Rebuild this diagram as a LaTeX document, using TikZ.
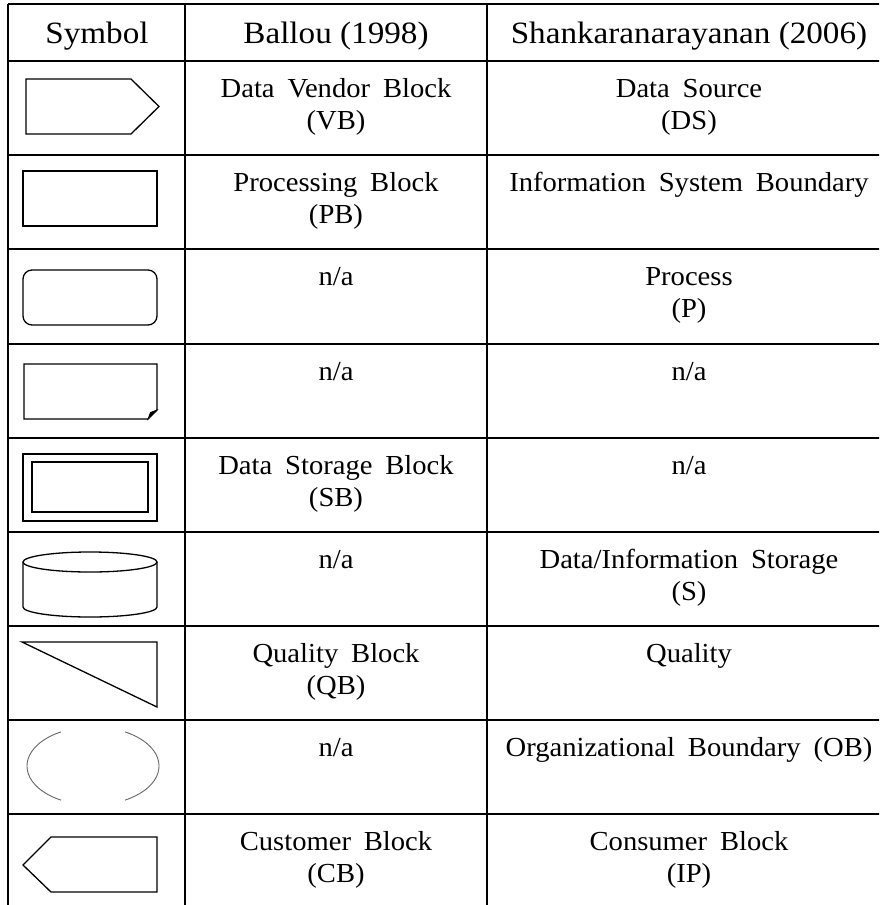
\documentclass[tikz,border=0pt]{standalone}
\usepackage{fontspec}
\setmainfont{Liberation Serif}
\newfontfamily\headfont{Liberation Serif}[FakeStretch=1.07]
\newfontfamily\bodyfont{Liberation Serif}[WordSpace=1.8,FakeStretch=1.04]

\tikzset{
    head/.style={anchor=base, inner sep=0pt, font=\headfont\fontsize{31}{34}\selectfont},
    entry/.style={anchor=base, inner sep=0pt, align=center, font=\bodyfont\fontsize{27.5}{32}\selectfont},
    grid line/.style={line width=1.6pt, draw=black},
    symbol/.style={line width=1.3pt, draw=black, line join=miter}
}

\begin{document}
\begin{tikzpicture}[x=1pt, y=-1pt]
\useasboundingbox (0,0) rectangle (879,905);
\clip (0,0) rectangle (879,905);
\begin{scope}[grid line]
    \foreach \yy in {4,61,155,249,344,438,532,626,720,814}
        \draw (8,\yy) -- (895,\yy);
    \foreach \xx in {8,185,487}
        \draw (\xx,4) -- (\xx,910);
\end{scope}
%% header
\node[head] (hsym) at (97,43) {Symbol};
\node[head] (hbal) at (336,43) {Ballou (1998)};
\node[head] (hsha) at (689,43) {Shankaranarayanan (2006)};
%% symbols
\begin{scope}[symbol]
    \draw (26,79) -- (131,79) -- (159,106.5) -- (131,134) -- (26,134) -- cycle;
    \draw (23,171) rectangle (157,226);
    \draw[rounded corners=9pt] (23,270) rectangle (157,325);
    \draw (24,364) -- (157,364) -- (157,410) -- (148,419) -- (24,419) -- cycle;
    \draw[fill=black, line width=0.8pt] (148,419) -- (150.5,412.5) -- (157,410) -- cycle;
    \draw[line width=1.1pt] (23,454) rectangle (157,521);
    \draw (32,462) rectangle (148,512);
    \draw (90,562) ellipse [x radius=67pt, y radius=10pt];
    \draw (23,562) -- (23,607) arc[start angle=180, end angle=360, x radius=67pt, y radius=10pt] -- (157,562);
    \draw (22,642) -- (157,642) -- (157,707) -- cycle;
    \draw (23,865) -- (51,837) -- (157,837) -- (157,892) -- (51,892) -- cycle;
\end{scope}
\begin{scope}[draw=black!60, line width=0.9pt]
    \draw (61,731.9) arc[start angle=119, end angle=241, x radius=66pt, y radius=39pt];
    \draw (125,800.1) arc[start angle=-61, end angle=61, x radius=66pt, y radius=39pt];
\end{scope}
%% Ballou (1998), base = last line
\node[entry] (vb) at (336,129) {Data Vendor Block\\(VB)};
\node[entry] (pb) at (336,223) {Processing Block\\(PB)};
\node[entry] (bna1) at (336,285) {n/a};
\node[entry] (bna2) at (336,380) {n/a};
\node[entry] (sb) at (336,506) {Data Storage Block\\(SB)};
\node[entry] (bna3) at (336,568) {n/a};
\node[entry] (qb) at (336,694) {Quality Block\\(QB)};
\node[entry] (bna4) at (336,756) {n/a};
\node[entry] (cb) at (336,882) {Customer Block\\(CB)};
%% Shankaranarayanan (2006)
\node[entry] (ds) at (689,129) {Data Source\\(DS)};
\node[entry] (isb) at (689,191) {Information System Boundary};
\node[entry] (p) at (689,317) {Process\\(P)};
\node[entry] (sna1) at (689,380) {n/a};
\node[entry] (sna2) at (689,474) {n/a};
\node[entry] (s) at (689,600) {Data/Information Storage\\(S)};
\node[entry] (q) at (689,662) {Quality};
\node[entry] (ob) at (689,756) {Organizational Boundary (OB)};
\node[entry] (ip) at (689,882) {Consumer Block\\(IP)};
\end{tikzpicture}
\end{document}
